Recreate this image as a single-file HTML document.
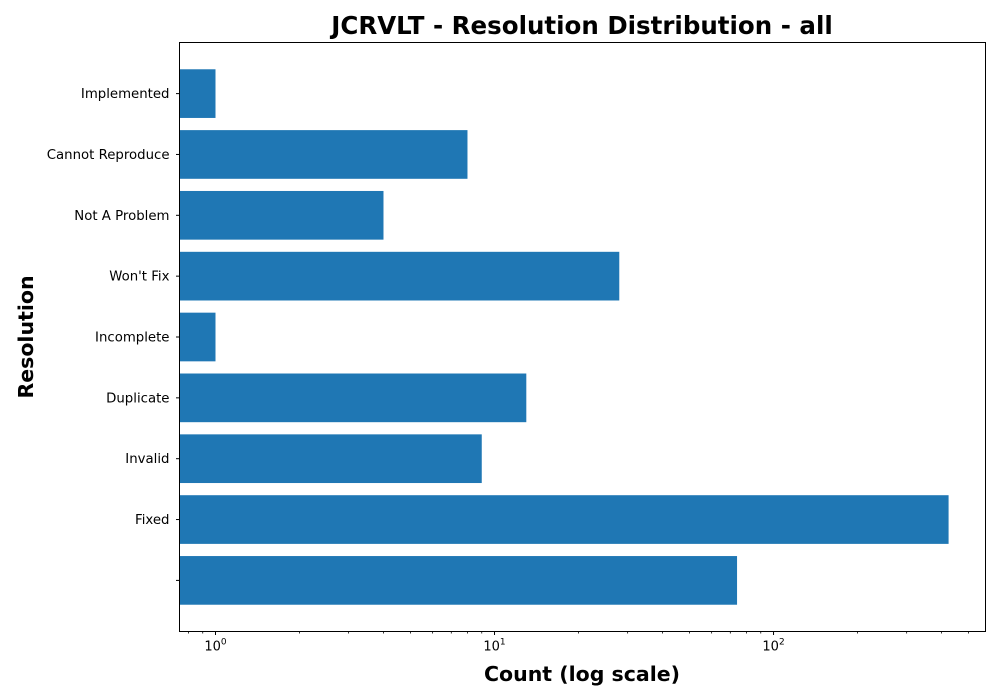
<!DOCTYPE html>
<html><head><meta charset="utf-8"><style>body{margin:0;background:#fff}svg{display:block;font-family:"DejaVu Sans","Liberation Sans",sans-serif}</style></head>
<body>
<svg id="chart" width="1000" height="700" viewBox="0 0 1000 700" xmlns="http://www.w3.org/2000/svg">
<rect width="1000" height="700" fill="#fff"/>
<text x="582" y="34" text-anchor="middle" font-size="24.5" font-weight="bold">JCRVLT - Resolution Distribution - all</text>
<text x="582" y="681" text-anchor="middle" font-size="20.5" font-weight="bold">Count (log scale)</text>
<text transform="translate(33,337) rotate(-90)" text-anchor="middle" font-size="20.5" font-weight="bold">Resolution</text>
<g id="bars"></g>
<g id="axes"></g>
<rect x="179.5" y="42.5" width="806" height="589" fill="none" stroke="#000" stroke-width="1"/>
</svg>
<script>
const categories = ["", "Fixed", "Invalid", "Duplicate", "Incomplete", "Won't Fix", "Not A Problem", "Cannot Reproduce", "Implemented"];
const counts = [74, 424, 9, 13, 1, 28, 4, 8, 1];
const xTickValues = [1, 10, 100];
const xTickLabels = ["0", "1", "2"];

const L=179.5,R=985.5,T=42.5,B=631.5;
const xmin=Math.log10(0.743), xmax=Math.log10(575);
function x(v){return L+(Math.log10(v)-xmin)/(xmax-xmin)*(R-L);}
const ymin=-0.84,ymax=categories.length-1+0.84;
function y(i){return B-(i-ymin)/(ymax-ymin)*(B-T);}
const ns="http://www.w3.org/2000/svg";
const bars=document.getElementById('bars'),axes=document.getElementById('axes');
function mk(tag,attrs,parent){const e=document.createElementNS(ns,tag);for(const k in attrs)e.setAttribute(k,attrs[k]);parent.appendChild(e);return e;}
const bh=(y(0)-y(0.8));
categories.forEach((c,i)=>{
  const r=mk('rect',{x:L,y:y(i)-bh/2,width:Math.max(0,x(counts[i])-L),height:bh,fill:'#1f77b4'},bars);
  
  
  mk('line',{x1:L-3.5,x2:L,y1:y(i),y2:y(i),stroke:'#000'},axes);
  const t=mk('text',{x:L-10,y:y(i)+4.5,'text-anchor':'end','font-size':13.3},axes);
  t.textContent=c;
  
  
});
xTickValues.forEach((v,i)=>{
  const px=x(v);
  mk('line',{x1:px,x2:px,y1:B,y2:B+3.5,stroke:'#000'},axes);
  const t=mk('text',{x:px,y:B+19,'text-anchor':'middle','font-size':13},axes);
  t.innerHTML='10<tspan dy="-6" font-size="9">'+xTickLabels[i]+'</tspan>';
  
  
});
for(let d=-1;d<=2;d++)for(let m=2;m<=9;m++){const v=m*Math.pow(10,d);const px=x(v);if(px<L||px>R)continue;mk('line',{x1:px,x2:px,y1:B,y2:B+2,stroke:'#000','stroke-width':0.8},axes);}
</script>
</body></html>
